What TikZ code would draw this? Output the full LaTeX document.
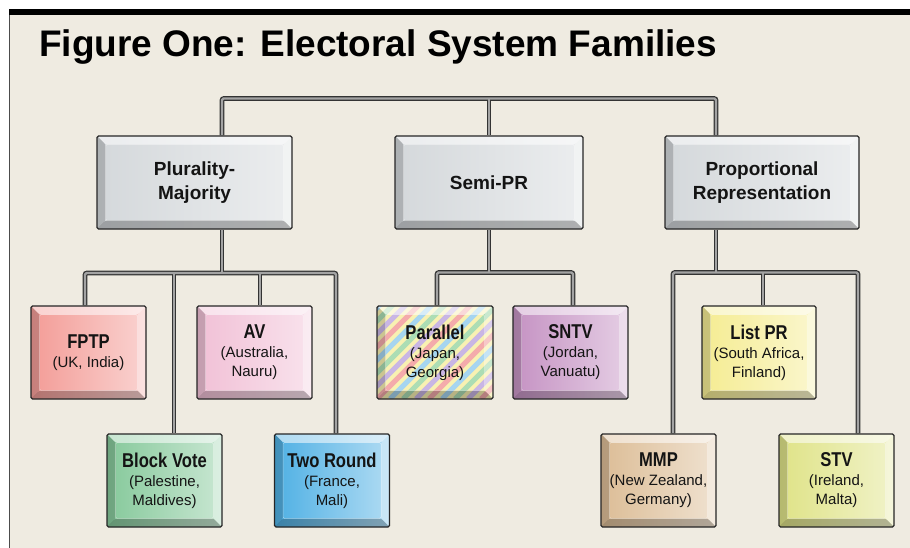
\documentclass[tikz,border=0pt]{standalone}
\usepackage{fontspec}
\setmainfont{Liberation Sans}
\newfontfamily\condsans{Liberation Sans}[FakeStretch=0.83]
\usetikzlibrary{calc}
\definecolor{beige}{HTML}{EFEBE1}
\definecolor{cgray}{HTML}{D4D8DB}
\definecolor{cfptp}{HTML}{F39C97}
\definecolor{cav}{HTML}{F1C0D6}
\definecolor{cbv}{HTML}{86C99B}
\definecolor{ctr}{HTML}{4FB0E4}
\definecolor{csntv}{HTML}{C592C3}
\definecolor{clpr}{HTML}{F5EC92}
\definecolor{cmmp}{HTML}{DCBD96}
\definecolor{cstv}{HTML}{DFE387}
\definecolor{cpar}{HTML}{F8F1B2}
\definecolor{sp}{HTML}{F4ABAB}
\definecolor{sb}{HTML}{A6D5F0}
\definecolor{sg}{HTML}{ACDDB4}
\definecolor{sv}{HTML}{C9B6E4}
\pgfdeclarelayer{bg}
\pgfsetlayers{bg,main}
\newcommand\boxttl{\fontsize{20}{22}\selectfont\condsans\bfseries}
\newcommand\bevelpart{%
  \coordinate (@nw) at (path picture bounding box.north west);
  \coordinate (@ne) at (path picture bounding box.north east);
  \coordinate (@sw) at (path picture bounding box.south west);
  \coordinate (@se) at (path picture bounding box.south east);
  \fill[white,opacity=.55] (@nw) -- (@ne) -- ([shift={(-8.5pt,-8.5pt)}]@ne) -- ([shift={(8.5pt,-8.5pt)}]@nw) -- cycle;
  \fill[white,opacity=.35] (@ne) -- (@se) -- ([shift={(-8.5pt,8.5pt)}]@se) -- ([shift={(-8.5pt,-8.5pt)}]@ne) -- cycle;
  \fill[black,opacity=.26] (@se) -- (@sw) -- ([shift={(8.5pt,8.5pt)}]@sw) -- ([shift={(-8.5pt,8.5pt)}]@se) -- cycle;
  \fill[black,opacity=.18] (@sw) -- (@nw) -- ([shift={(8.5pt,-8.5pt)}]@nw) -- ([shift={(8.5pt,8.5pt)}]@sw) -- cycle;
  \draw[white,opacity=.45,line width=.5pt] ([shift={(8.5pt,-8.5pt)}]@nw) rectangle ([shift={(-8.5pt,8.5pt)}]@se);
}
\newcommand\stripepart{%
  \coordinate (@sw) at (path picture bounding box.south west);
  \foreach \r in {-3,...,2}{
    \foreach \j/\c in {0/sp,1/sb,2/sg,3/sv}{
      \draw[\c,line width=5pt] ([xshift={(\r*4+\j)*13pt}]@sw) -- ++(110pt,110pt);
    }
  }
  \bevelpart
}
\tikzset{
  boxbase/.style={draw=black!85, line width=1.1pt, rounded corners=1.5pt, inner sep=0pt,
    align=center, font=\fontsize{15}{19}\selectfont, text=black!92},
  bfill/.style={boxbase, left color=#1, right color=#1!45!white, path picture={\bevelpart}},
  sfill/.style={boxbase, fill=#1, path picture={\stripepart}},
  smallbox/.style={minimum width=115pt, minimum height=93pt},
  bigbox/.style={minimum height=93pt, font=\fontsize{19}{24.5}\selectfont\bfseries},
  pipeo/.style={line width=4.8pt, draw=black!80, rounded corners=2pt},
  pipei/.style={line width=2.2pt, draw=black!36, rounded corners=1.5pt},
}
\newcommand\pipenet[1]{%
  \draw[#1] (a1 |- pm.north) -- (a1) -- (a3) -- (a3 |- pr.north);
  \draw[#1] (spr.north) -- (spr.north |- a1);
  \draw[#1] (b1 |- fptp.north) -- (b1) -- (b4) -- (b4 |- tr.north);
  \draw[#1] (a1 |- pm.south) -- (a1 |- b1);
  \draw[#1] (b2) -- (b2 |- bv.north);
  \draw[#1] (b3) -- (b3 |- av.north);
  \draw[#1] (c1 |- par.north) -- (c1) -- (c2) -- (c2 |- sntv.north);
  \draw[#1] (spr.south) -- (spr.south |- c1);
  \draw[#1] (d1 |- mmp.north) -- (d1) -- (d3) -- (d3 |- stv.north);
  \draw[#1] (d2) -- (d2 |- lpr.north);
  \draw[#1] (a3 |- pr.south) -- (a3 |- d1);
}
\begin{document}
\begin{tikzpicture}[x=1pt,y=-1pt]
\useasboundingbox (0,0) rectangle (910,548);
\begin{pgfonlayer}{bg}
\fill[white] (0,0) rectangle (910,548);
\fill[beige] (9,15) rectangle (910,548);
\fill[black] (9,9) rectangle (910,15.5);
\draw[black!70,line width=1pt] (9.5,15) -- (9.5,548);
\end{pgfonlayer}

\node[anchor=base west, inner sep=0pt, font=\fontsize{37}{40}\selectfont\bfseries] (title) at (39,57) {Figure One: Electoral System Families};

\node[bfill=cgray, bigbox, minimum width=195pt] (pm) at (194.5,182.5) {Plurality-\\Majority};
\node[bfill=cgray, bigbox, minimum width=188pt] (spr) at (489,182.5) {Semi-PR};
\node[bfill=cgray, bigbox, minimum width=194pt] (pr) at (762,182.5) {Proportional\\Representation};

\node[bfill=cfptp, smallbox] (fptp) at (88.5,352.5) {{\boxttl FPTP}\\(UK, India)};
\node[bfill=cav, smallbox] (av) at (254.5,352.5) {{\boxttl AV}\\(Australia,\\Nauru)};
\node[bfill=cbv, smallbox] (bv) at (164.5,480.5) {{\boxttl Block Vote}\\(Palestine,\\Maldives)};
\node[bfill=ctr, smallbox] (tr) at (332,480.5) {{\boxttl Two Round}\\(France,\\Mali)};
\node[sfill=cpar, smallbox, minimum width=116pt] (par) at (435,352.5) {{\boxttl Parallel}\\(Japan,\\Georgia)};
\node[bfill=csntv, smallbox] (sntv) at (570.5,352.5) {{\boxttl SNTV}\\(Jordan,\\Vanuatu)};
\node[bfill=clpr, smallbox, minimum width=114pt] (lpr) at (759,352.5) {{\boxttl List PR}\\(South Africa,\\Finland)};
\node[bfill=cmmp, smallbox] (mmp) at (658.5,480.5) {{\boxttl MMP}\\(New Zealand,\\Germany)};
\node[bfill=cstv, smallbox] (stv) at (836.5,480.5) {{\boxttl STV}\\(Ireland,\\Malta)};

\coordinate (a1) at (222,98.5);
\coordinate (a3) at (716,98.5);
\coordinate (b1) at (85,273);
\coordinate (b2) at (174,273);
\coordinate (b3) at (260,273);
\coordinate (b4) at (336,273);
\coordinate (c1) at (437,272.5);
\coordinate (c2) at (573,272.5);
\coordinate (d1) at (673,272.5);
\coordinate (d2) at (763,272.5);
\coordinate (d3) at (858,272.5);

\begin{pgfonlayer}{bg}
\pipenet{pipeo}
\pipenet{pipei}
\end{pgfonlayer}
\end{tikzpicture}
\end{document}
